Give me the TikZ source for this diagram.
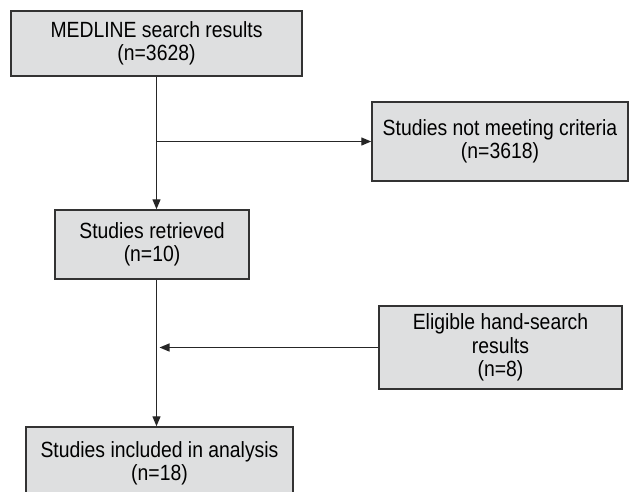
\documentclass[tikz,border=0pt]{standalone}
\usepackage{fontspec}
\setmainfont{Liberation Sans}[FakeStretch=0.88]
\usetikzlibrary{arrows.meta}
\definecolor{boxfill}{HTML}{DEDFE0}
\definecolor{boxline}{HTML}{333333}
\begin{document}
\begin{tikzpicture}[x=1pt,y=-1pt,
  box/.style={draw=boxline,fill=boxfill,line width=1.5pt,inner sep=0pt,align=center,
    font=\fontsize{22}{23.5}\selectfont},
  conn/.style={draw=black!85,line width=1.4pt},
  arr/.style={conn,-{Triangle[length=10pt,width=8pt]}}]
\useasboundingbox (0,0) rectangle (629,491);
\clip (0,0) rectangle (629,491);
\node[box,minimum width=291pt,minimum height=65pt] (m) at (156.5,43.5) {MEDLINE search results\\(n=3628)};
\node[box,minimum width=256pt,minimum height=79pt] (n) at (500,141.5) {Studies not meeting criteria\\(n=3618)};
\node[box,minimum width=194pt,minimum height=69pt] (r) at (152,244.5) {Studies retrieved\\(n=10)};
\node[box,minimum width=243pt,minimum height=83pt] (e) at (500.5,347.5) {Eligible hand-search\\results\\(n=8)};
\node[box,minimum width=267pt,minimum height=73pt] (i) at (159.5,463.5) {Studies included in analysis\\(n=18)};
\coordinate (b1) at (m.south |- n.west);
\coordinate (b2) at ([xshift=3pt]r.south |- e.west);
\draw[arr] (m.south) -- (m.south |- r.north);
\draw[arr] (b1) -- (n.west);
\draw[arr] (m.south |- r.south) -- (m.south |- i.north);
\draw[arr] (e.west) -- ([xshift=3pt]m.south |- e.west);
\end{tikzpicture}
\end{document}
